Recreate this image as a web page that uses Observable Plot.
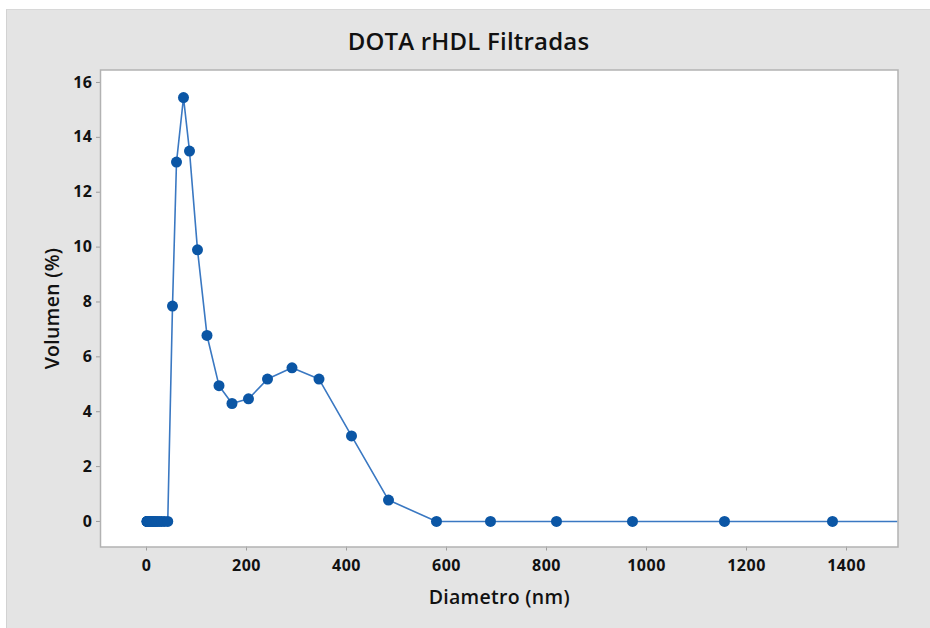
<!DOCTYPE html>
<html>
<head>
<meta charset="utf-8">
<script src="https://cdn.jsdelivr.net/npm/d3@7"></script>
<script src="https://cdn.jsdelivr.net/npm/@observablehq/plot@0.6"></script>
<style>
  html, body { margin: 0; padding: 0; background: #ffffff; }
  #wrap { position: relative; width: 930px; height: 628px; overflow: hidden; font-family: "Open Sans", sans-serif; }
  #panel { position: absolute; left: 6px; top: 9px; width: 924px; height: 619px; background: #e4e4e4; border-left: 1px solid #d2d2d2; border-top: 1px solid #d8d8d8; box-sizing: border-box; }
  #title { position: absolute; left: 7px; width: 923px; top: 29px; line-height: 24px; text-align: center; font-size: 24px; font-weight: 600; color: #111; letter-spacing: 0.2px; }
  #chart { position: absolute; left: 0; top: 0; }
  #chart g[aria-label="x-axis tick label"] text,
  #chart g[aria-label="y-axis tick label"] text { letter-spacing: 0.5px; }
  #chart g[aria-label="text"] text { letter-spacing: 0.3px; }
</style>
</head>
<body>
<div id="wrap">
  <div id="panel"></div>
  <div id="title">DOTA rHDL Filtradas</div>
  <div id="chart"></div>
</div>
<script>
// Diameter (nm) of each DLS size bin and its volume (%)
const diameters = [1.0, 1.2, 1.4, 1.7, 2.0, 2.4, 2.8, 3.3, 3.9, 4.6, 5.5, 6.5, 7.7, 9.1, 10.8, 12.8, 15.2, 18.0, 21.3, 25.2, 29.9, 35.5, 42.5,
  52, 60, 74, 86, 102, 121, 145, 171, 204, 242, 291, 345, 410, 484, 580, 688, 820, 972, 1156, 1372, 1630];
const volumes = [0, 0, 0, 0, 0, 0, 0, 0, 0, 0, 0, 0, 0, 0, 0, 0, 0, 0, 0, 0, 0, 0, 0,
  7.85, 13.1, 15.45, 13.5, 9.9, 6.78, 4.95, 4.3, 4.47, 5.19, 5.6, 5.19, 3.12, 0.78, 0, 0, 0, 0, 0, 0, 0];
const xTicks = [0, 200, 400, 600, 800, 1000, 1200, 1400];
const yTicks = [0, 2, 4, 6, 8, 10, 12, 14, 16];

const data = diameters.map((d, i) => ({d, v: volumes[i]}));

const chart = Plot.plot({
  width: 930,
  height: 628,
  marginLeft: 100,
  marginRight: 32.5,
  marginTop: 69.5,
  marginBottom: 81.5,
  style: {background: "transparent", fontFamily: "'Open Sans', sans-serif", color: "#111"},
  x: {domain: [-92, 1503]},
  y: {domain: [-0.93, 16.455]},
  marks: [
    Plot.frame({fill: "white", stroke: "none"}),
    Plot.axisX({ticks: xTicks, tickSize: 4, tickPadding: 9, fontSize: 16, fontWeight: "bold", stroke: "#9c9c9c", fill: "#111", label: null, tickFormat: d => String(d)}),
    Plot.axisY({ticks: yTicks, tickSize: 4, tickPadding: 4, fontSize: 16, fontWeight: "bold", stroke: "#9c9c9c", fill: "#111", label: null}),
    Plot.line(data, {x: "d", y: "v", stroke: "#3a78c2", strokeWidth: 1.6, clip: true}),
    Plot.dot(data, {x: "d", y: "v", r: 5.5, fill: "#0b56a5", stroke: "none", clip: true}),
    Plot.frame({stroke: "#b2b2b2", strokeWidth: 1.5}),
    Plot.text(["Diametro (nm)"], {frameAnchor: "bottom", dy: 57, fontSize: 19.5, fontWeight: 600, fill: "#111"}),
    Plot.text(["Volumen (%)"], {frameAnchor: "left", textAnchor: "middle", dx: -48, rotate: -90, fontSize: 19.5, fontWeight: 600, fill: "#111"})
  ]
});
document.getElementById("chart").appendChild(chart);
</script>
</body>
</html>
